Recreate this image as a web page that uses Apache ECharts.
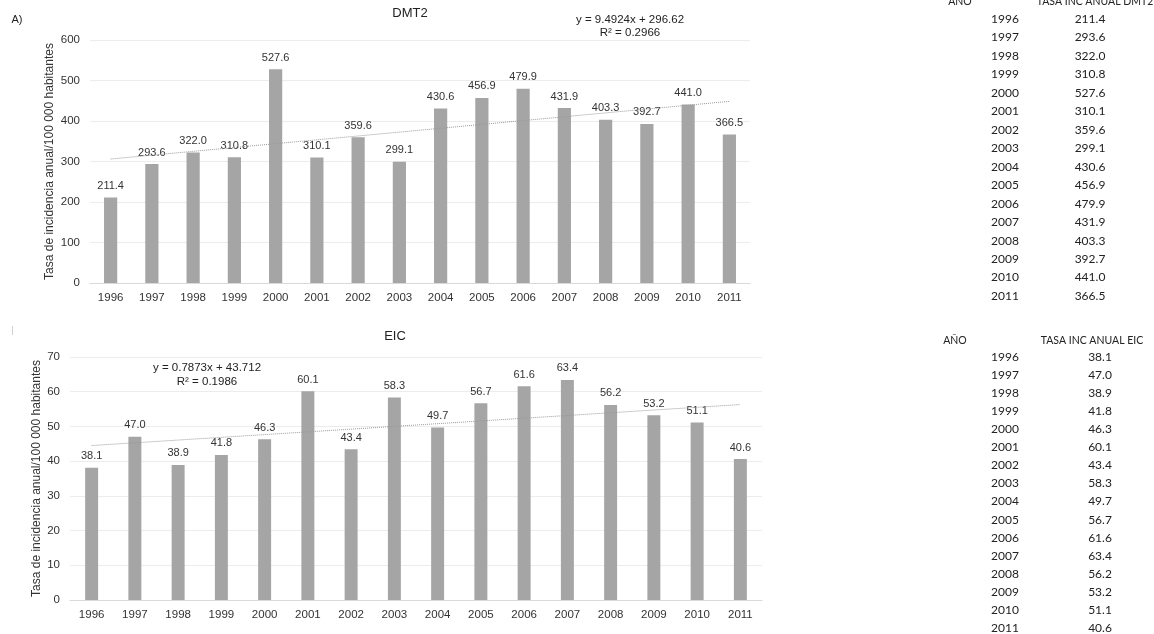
<!DOCTYPE html>
<html><head><meta charset="utf-8">
<script src="https://cdn.jsdelivr.net/npm/echarts@6/dist/echarts.min.js"></script>
<style>html,body{margin:0;padding:0;background:#fff}#c{width:1154px;height:634px}</style>
</head><body><div id="c"></div>
<script>
const years = ['1996','1997','1998','1999','2000','2001','2002','2003','2004','2005','2006','2007','2008','2009','2010','2011'];
const dmt2 = [211.4,293.6,322.0,310.8,527.6,310.1,359.6,299.1,430.6,456.9,479.9,431.9,403.3,392.7,441.0,366.5];
const eic = [38.1,47.0,38.9,41.8,46.3,60.1,43.4,58.3,49.7,56.7,61.6,63.4,56.2,53.2,51.1,40.6];
const trendDmt2Ends = [306.1, 448.5];
const trendEicEnds = [44.5, 56.3];
const yTicksDmt2 = {min:0, max:600, interval:100};
const yTicksEic = {min:0, max:70, interval:10};
const eqDmt2 = ['y = 9.4924x + 296.62', 'R² = 0.2966'];
const eqEic = ['y = 0.7873x + 43.712', 'R² = 0.1986'];
const yName = 'Tasa de incidencia anual/100 000 habitantes';

const F = '"Liberation Sans", Arial, sans-serif';
const TF = 'Lato, "Open Sans", sans-serif';

const chart = echarts.init(document.getElementById('c'), null, {renderer:'canvas'});

function xAx(gi){
  return {type:'category', gridIndex:gi, data:years,
    axisLine:{lineStyle:{color:'#d9d9d9'}}, axisTick:{show:false},
    axisLabel:{color:'#333', fontSize:11.5, fontFamily:F, margin:9}};
}
function yAx(gi, t, gap){
  return {type:'value', gridIndex:gi, min:t.min, max:t.max, interval:t.interval,
    name:yName, nameLocation:'middle', nameGap:gap, nameRotate:90, nameMoveOverlap:false,
    nameTextStyle:{color:'#333', fontSize:12, fontFamily:F},
    axisLine:{show:false}, axisTick:{show:false},
    axisLabel:{color:'#333', fontSize:11.5, fontFamily:F, margin:10},
    splitLine:{lineStyle:{color:'#ececec'}}};
}
function barS(i, data, bw, ends){
  return {type:'bar', xAxisIndex:i, yAxisIndex:i, data:data, barWidth:bw,
    itemStyle:{color:'#a5a5a5'},
    label:{show:true, position:'top', distance:6, color:'#333', fontSize:11, fontFamily:F,
      formatter:p=>p.value.toFixed(1)},
    markLine:{silent:true, symbol:'none', label:{show:false},
      lineStyle:{type:'dotted', color:'#9a9a9a', width:1},
      data:[[{coord:[years[0], ends[0]]},{coord:[years[years.length-1], ends[1]]}]]}};
}

const graphics = [];
function txt(x,y,s,opt){
  graphics.push({type:'text', x:x, y:y, style:Object.assign({text:s, fill:'#333', fontSize:11, fontFamily:F, align:'center', verticalAlign:'middle'}, opt||{})});
}
txt(17,20,'A)',{fill:'#222'});
graphics.push({type:'rect', shape:{x:12,y:326,width:1,height:9}, style:{fill:'#d0d0d0'}});
txt(410,13,'DMT2',{fontSize:13, fill:'#222'});
txt(395,336,'EIC',{fontSize:13, fill:'#222'});
txt(630,20,eqDmt2[0],{fill:'#222', fontSize:11.5});
txt(630,33,eqDmt2[1],{fill:'#222', fontSize:11.5});
txt(207,368,eqEic[0],{fill:'#222', fontSize:11.5});
txt(207,382,eqEic[1],{fill:'#222', fontSize:11.5});

// tables
txt(960,2,'AÑO',{fontFamily:TF, fontSize:10.5, fill:'#222'});
txt(1095,2,'TASA INC ANUAL DMT2',{fontFamily:TF, fontSize:10.5, fill:'#222'});
years.forEach((yr,i)=>{
  const y = 19 + i*18.47;
  txt(1005,y,yr,{fontFamily:TF, fontSize:12, fill:'#222'});
  txt(1090,y,dmt2[i].toFixed(1),{fontFamily:TF, fontSize:12, fill:'#222'});
});
txt(955,341,'AÑO',{fontFamily:TF, fontSize:10.5, fill:'#222'});
txt(1092,341,'TASA INC ANUAL EIC',{fontFamily:TF, fontSize:10.5, fill:'#222'});
years.forEach((yr,i)=>{
  const y = 357 + i*18.07;
  txt(1005,y,yr,{fontFamily:TF, fontSize:12, fill:'#222'});
  txt(1100,y,eic[i].toFixed(1),{fontFamily:TF, fontSize:12, fill:'#222'});
});

chart.setOption({
  animation:false,
  grid:[
    {left:90, right:404, top:40, height:243},
    {left:70, right:392, top:357, height:243}
  ],
  xAxis:[xAx(0), xAx(1)],
  yAxis:[yAx(0, yTicksDmt2, 34), yAx(1, yTicksEic, 27)],
  series:[barS(0, dmt2, '32%', trendDmt2Ends), barS(1, eic, '30%', trendEicEnds)],
  graphic:graphics
});
</script></body></html>
